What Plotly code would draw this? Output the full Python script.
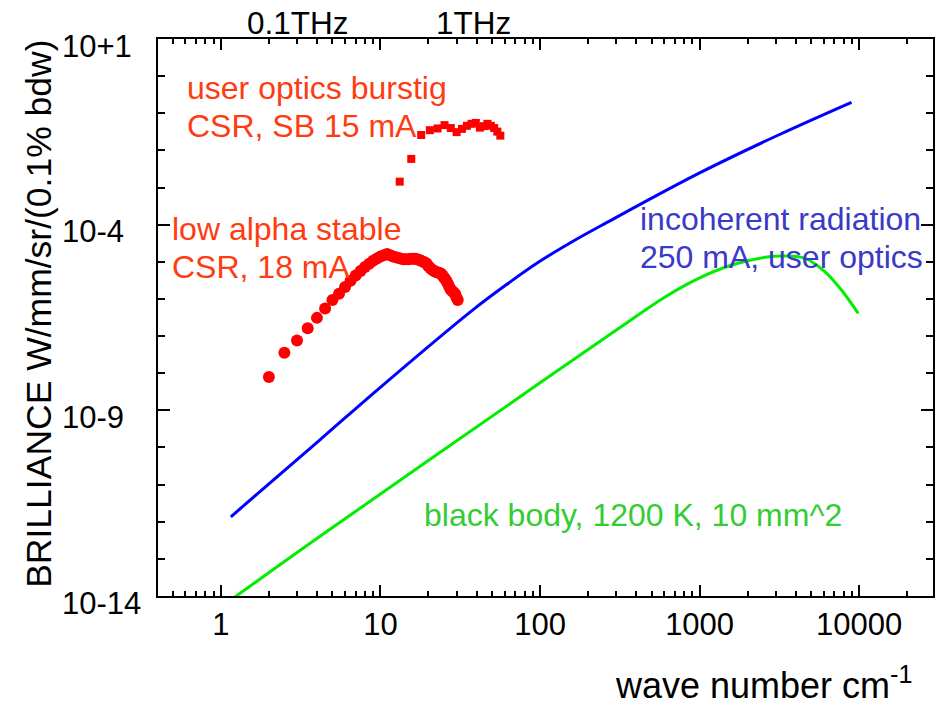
import plotly.graph_objects as go

# ---------------- data ----------------
# incoherent synchrotron radiation, 250 mA, user optics
incoh_wavenumber = [1.155, 4.16, 9.86, 37.8, 61.1, 98.6, 159, 258, 986, 3120, 8950]
incoh_brilliance = [1.36e-12, 1.58e-10, 3.98e-9, 5.0e-7, 2.37e-6, 1.0e-5, 3.47e-5,
                    1.10e-4, 2.40e-3, 0.026, 0.197]

# black body, 1200 K, 10 mm^2
bb_wavenumber = [1.03, 4.16, 100, 312, 611, 986, 1592, 2576, 3436, 4581, 6109, 7745, 9863]
bb_brilliance = [5.5e-15, 4.0e-13, 5.5e-9, 1.62e-7, 1.15e-6, 3.59e-6, 8.18e-6,
                 1.32e-5, 1.43e-5, 1.24e-5, 5.37e-6, 1.74e-6, 4.07e-7]

# low alpha stable CSR, 18 mA (circles)
lowalpha_wavenumber = [2.0, 2.5, 3.0, 3.5, 4.0, 4.5, 5.0, 5.5, 6.0, 6.5, 7.0, 7.5, 8.0, 8.5,
                       9.0, 9.5, 10.0, 10.5, 11.0, 11.5, 12.0, 12.5, 13.0, 13.5, 14.0, 14.5,
                       15.0, 15.5, 16.0, 16.5, 17.0, 17.5, 18.0, 18.5, 19.0, 19.5, 20.0, 20.5,
                       21.0, 21.5, 22.0, 22.5, 23.0, 23.5, 24.0, 24.5, 25.0, 25.5, 26.0, 26.5,
                       27.0, 27.5, 28.0, 28.5, 29.0, 29.5, 30.0, 30.5]
lowalpha_brilliance = [7.94e-9, 3.55e-8, 7.59e-8, 1.62e-7, 3.09e-7, 5.50e-7, 9.33e-7, 1.38e-6,
                       2.09e-6, 3.09e-6, 4.27e-6, 5.62e-6, 7.24e-6, 8.91e-6, 1.07e-5, 1.23e-5,
                       1.38e-5, 1.51e-5, 1.62e-5, 1.51e-5, 1.38e-5, 1.32e-5, 1.26e-5, 1.20e-5,
                       1.175e-5, 1.175e-5, 1.175e-5, 1.20e-5, 1.20e-5, 1.20e-5, 1.175e-5, 1.12e-5,
                       1.07e-5, 1.0e-5, 9.55e-6, 8.91e-6, 7.59e-6, 6.76e-6, 6.17e-6, 5.75e-6,
                       5.50e-6, 5.25e-6, 5.13e-6, 5.01e-6, 4.79e-6, 4.27e-6, 3.80e-6, 3.39e-6,
                       2.95e-6, 2.51e-6, 2.14e-6, 1.82e-6, 1.66e-6, 1.55e-6, 1.45e-6, 1.32e-6,
                       1.07e-6, 9.33e-7]

# user optics bursting CSR, SB 15 mA (squares)
burst_wavenumber = [13.2, 15.6, 18.0, 20.4, 22.8, 25.2, 27.6, 30.0, 32.4, 34.8, 37.2, 39.6,
                    42.0, 44.4, 46.8, 49.2, 51.6, 54.0, 56.4]
burst_brilliance = [1.44e-3, 5.9e-3, 0.026, 0.035, 0.039, 0.048, 0.040, 0.031, 0.038, 0.046,
                    0.052, 0.055, 0.041, 0.045, 0.052, 0.046, 0.040, 0.032, 0.025]

x_tick_values = [1, 10, 100, 1000, 10000]
x_tick_labels = ["1", "10", "100", "1000", "10000"]
y_tick_values = [10, 1e-4, 1e-9, 1e-14]
y_tick_labels = ["10+1", "10-4", "10-9", "10-14"]
thz_labels = ["0.1THz", "1THz"]
thz_wavenumber = [3.3356, 33.356]

# ---------------- layout helpers ----------------
W, H = 942, 707
L, R, T, B = 158, 7, 39, 111
PW, PH = W - L - R, H - T - B
FONT = "Liberation Sans, Arial, Helvetica, sans-serif"


def pxx(px):
    return (px - L) / PW


def pxy(py):
    return (T + PH - py) / PH


x_minor = [m * 10 ** k for k in range(-1, 5) for m in range(2, 10)]
x_minor = [v for v in x_minor if 0.4 < v < 29000]
y_minor = [10.0 ** k for k in range(-14, 2)]

fig = go.Figure()
fig.add_trace(go.Scatter(x=incoh_wavenumber, y=incoh_brilliance, mode="lines",
                         line=dict(color="#0000ff", width=3, shape="spline")))
fig.add_trace(go.Scatter(x=bb_wavenumber, y=bb_brilliance, mode="lines",
                         line=dict(color="#00ee00", width=3, shape="spline")))
fig.add_trace(go.Scatter(x=lowalpha_wavenumber, y=lowalpha_brilliance, mode="markers",
                         marker=dict(color="#ff0000", size=12, symbol="circle", line=dict(width=0))))
fig.add_trace(go.Scatter(x=burst_wavenumber, y=burst_brilliance, mode="markers",
                         marker=dict(color="#ff0000", size=8, symbol="square", line=dict(width=0))))

axis_common = dict(showline=True, linecolor="black", linewidth=2, mirror="ticks",
                   ticks="inside", tickcolor="black", tickwidth=1.5, showgrid=False,
                   zeroline=False)

fig.update_xaxes(type="log", range=[-0.394, 4.4625], tickmode="array",
                 tickvals=x_tick_values, ticktext=x_tick_labels, ticklen=11,
                 tickfont=dict(family=FONT, size=31, color="black"),
                 minor=dict(tickmode="array", tickvals=x_minor, ticks="inside", ticklen=5,
                            tickcolor="black", tickwidth=1.5, showgrid=False),
                 **axis_common)
fig.update_yaxes(type="log", range=[-14, 1], tickmode="array", tickvals=y_tick_values,
                 showticklabels=False, ticklen=12,
                 minor=dict(tickmode="array", tickvals=y_minor, ticks="inside", ticklen=7,
                            tickcolor="black", tickwidth=1.5, showgrid=False),
                 **axis_common)

ann = []
# y tick labels (left-aligned in the reference)
for v, t in zip(y_tick_values, y_tick_labels):
    import math
    ann.append(dict(x=pxx(60), xref="paper", y=math.log10(v), yref="y", text=t,
                    xanchor="left", yanchor="middle", yshift=-7, showarrow=False,
                    font=dict(family=FONT, size=31, color="black")))

# THz labels on top
for v, t, sh in zip(thz_wavenumber, thz_labels, [-6, 10]):
    ann.append(dict(x=math.log10(v), xref="x", y=1, yref="paper", text=t, xshift=sh,
                    yanchor="middle", yshift=16.5, showarrow=False,
                    font=dict(family=FONT, size=31.5, color="black")))

red = "#ff3b12"
blue_t = "#3a3ac8"
green_t = "#33cc33"
text_items = [
    ("user optics burstig", 185, 88, red),
    ("CSR, SB 15 mA", 185, 126, red),
    ("low alpha stable", 170, 229, red),
    ("CSR, 18 mA", 170, 266.5, red),
    ("incoherent radiation", 639, 218.5, blue_t),
    ("250 mA, user optics", 639, 257, blue_t),
    ("black body, 1200 K, 10 mm^2", 423, 514.5, green_t),
]
for t, x0, y0, c in text_items:
    ann.append(dict(x=pxx(x0), y=pxy(y0), xref="paper", yref="paper", text=t,
                    xanchor="left", yanchor="middle", showarrow=False,
                    font=dict(family=FONT, size=32, color=c)))

# axis titles
ann.append(dict(x=pxx(38.5), y=pxy(314), xref="paper", yref="paper",
                text="BRILLIANCE W/mm/sr/(0.1% bdw)", textangle=-90,
                xanchor="center", yanchor="middle", showarrow=False,
                font=dict(family=FONT, size=35.5, color="black")))
ann.append(dict(x=pxx(614), y=pxy(708), xref="paper", yref="paper",
                text="wave number cm<sup>-1</sup>",
                xanchor="left", yanchor="bottom", showarrow=False,
                font=dict(family=FONT, size=36, color="black")))

fig.update_layout(width=W, height=H, margin=dict(l=L, r=R, t=T, b=B),
                  paper_bgcolor="white", plot_bgcolor="white", showlegend=False,
                  annotations=ann, font=dict(family=FONT))

fig.write_html("out.html")
